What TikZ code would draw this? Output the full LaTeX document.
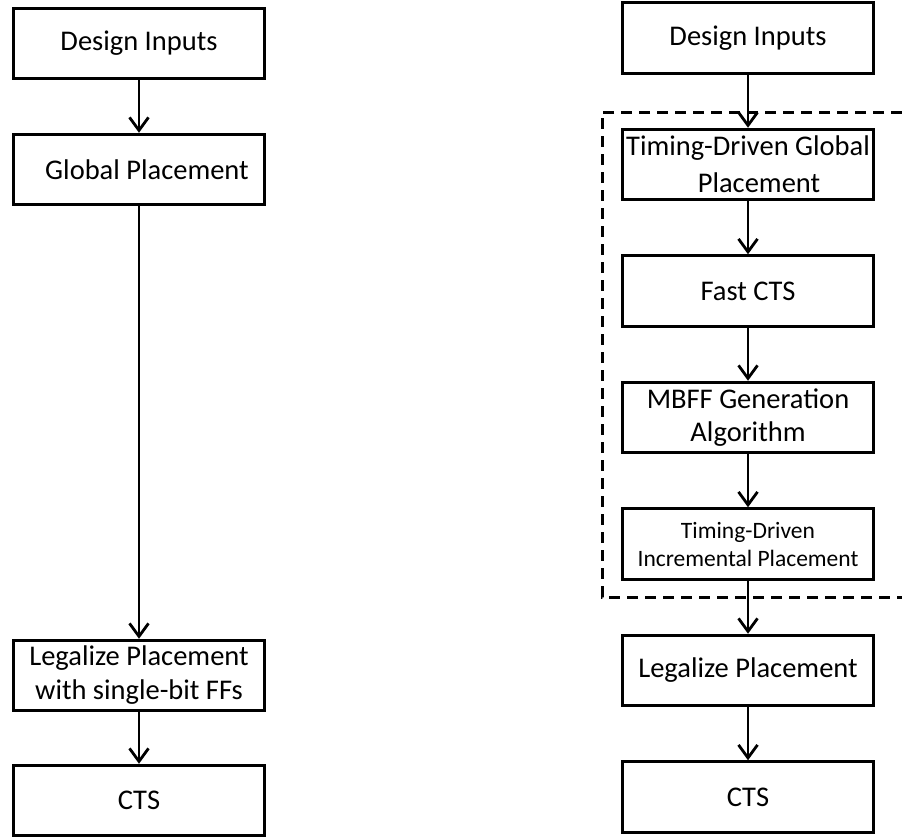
\documentclass[tikz,border=0pt]{standalone}
\usepackage{fontspec}
\setmainfont{Carlito}
\usetikzlibrary{positioning,arrows.meta}
\tikzset{flowbox/.style={
  shape=rectangle,
  draw=black,
  line width=3pt,
  minimum width=251.5pt,
  minimum height=70.5pt,
  inner sep=2pt,
  align=center,
  text=black,
  font=\fontsize{28.5}{34}\selectfont,
  }
}
\tikzset{flowarrow/.style={
  draw=black,
  line width=2.8pt,
  -{Straight Barb[length=13pt,width=19pt]},
  }
}
\tikzset{groupline/.style={
  draw=black,
  line width=3pt,
  dash pattern=on 11pt off 7pt,
  }
}

\begin{document}
\begin{tikzpicture}[x=1pt,y=-1pt]
      \useasboundingbox (0,0) rectangle (902,839);

      % conventional flow
      \node [flowbox] at (139,43.5) (di1) {Design Inputs};
      \node [flowbox, below=52.5pt of di1] (gp1) {\hspace*{16pt}Global Placement};
      \node [flowbox, below=432.5pt of gp1] (lp1) {Legalize Placement\\with single-bit FFs};
      \node [flowbox, below=51.5pt of lp1] (cts1) {CTS};

      % proposed flow
      \node [flowbox] at (748,38) (di2) {Design Inputs};
      \node [flowbox, font=\fontsize{28.5}{37}\selectfont, below=53pt of di2] (tdgp) {Timing-Driven Global\\\hspace*{22pt}Placement};
      \node [flowbox, below=53pt of tdgp] (fcts) {Fast CTS};
      \node [flowbox, font=\fontsize{28.5}{33}\selectfont, below=53pt of fcts] (mbff) {MBFF Generation\\Algorithm};
      \node [flowbox, font=\fontsize{23.5}{28}\selectfont, below=53pt of mbff] (tdip) {Timing-Driven\\Incremental Placement};
      \node [flowbox, below=53pt of tdip] (lp2) {Legalize Placement};
      \node [flowbox, below=53pt of lp2] (cts2) {CTS};

      \draw [groupline] (902,112) -| (602,597) -- (902,597);

      \draw [flowarrow] (di1) -- (gp1);
      \draw [flowarrow] (gp1) -- (lp1);
      \draw [flowarrow] (lp1) -- (cts1);

      \draw [flowarrow] (di2) -- (tdgp);
      \draw [flowarrow] (tdgp) -- (fcts);
      \draw [flowarrow] (fcts) -- (mbff);
      \draw [flowarrow] (mbff) -- (tdip);
      \draw [flowarrow] (tdip) -- (lp2);
      \draw [flowarrow] (lp2) -- (cts2);
\end{tikzpicture}
\end{document}
